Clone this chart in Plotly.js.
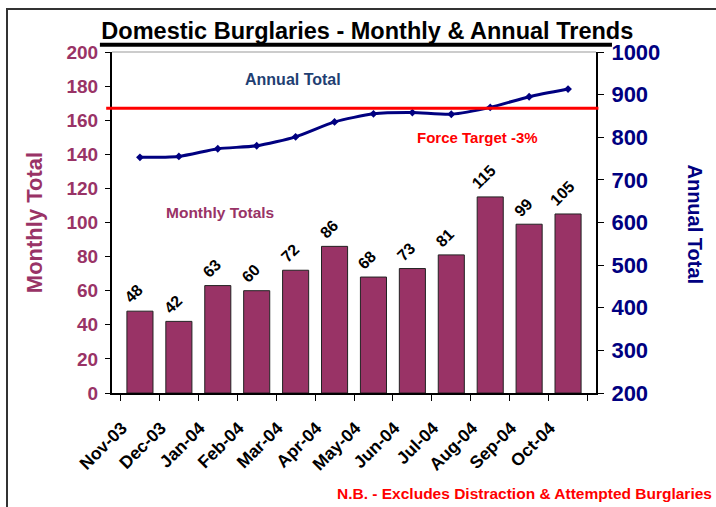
<!DOCTYPE html>
<html>
<head>
<meta charset="utf-8">
<script src="https://cdn.plot.ly/plotly-3.0.1.min.js"></script>
<style>
  body { margin: 0; background: #fff; }
  #wrap { position: relative; width: 716px; height: 507px; overflow: hidden; }
  #frame { position: absolute; left: 6px; top: 8px; width: 800px; height: 600px;
           border-left: 2px solid #333; border-top: 2px solid #333; pointer-events: none; }
  #chart { width: 716px; height: 507px; }
</style>
</head>
<body>
<div id="wrap">
  <div id="chart"></div>
  <div id="frame"></div>
</div>
<script>
// month labels
const months = ['Nov-03', 'Dec-03', 'Jan-04', 'Feb-04', 'Mar-04', 'Apr-04',
                'May-04', 'Jun-04', 'Jul-04', 'Aug-04', 'Sep-04', 'Oct-04'];

// monthly burglaries (bars, left axis)
const monthlyTotals = [48, 42, 63, 60, 72, 86, 68, 73, 81, 115, 99, 105];

// rolling annual total (line, right axis)
const annualTotals = [753, 755, 773, 780, 801, 836, 855, 858, 854, 870, 895, 913];

// force target line, on the monthly scale
const forceTarget = 167;

const maroon = '#993366';
const navy = '#000080';
const fontFam = 'Arial, "Liberation Sans", sans-serif';

const bars = {
    x: months,
    y: monthlyTotals,
    type: 'bar',
    marker: { color: maroon, line: { color: '#222', width: 1 } },
    hoverinfo: 'none'
};

const annual = {
    x: months,
    y: annualTotals,
    yaxis: 'y2',
    type: 'scatter',
    mode: 'lines+markers',
    line: { color: navy, width: 3, shape: 'spline', smoothing: 0.6 },
    marker: { color: navy, symbol: 'diamond', size: 6 },
    hoverinfo: 'none'
};

// rotated value labels above each bar
const barLabels = months.map((m, i) => ({
    x: m, y: monthlyTotals[i], xref: 'x', yref: 'y',
    text: String(monthlyTotals[i]),
    showarrow: false, textangle: -45,
    xanchor: 'center', yanchor: 'bottom', xshift: -6, yshift: 2,
    font: { family: fontFam, size: 16, color: '#000', weight: 700 }
}));

const layout = {
    width: 716,
    height: 507,
    margin: { l: 112, r: 120, t: 52, b: 114 },
    paper_bgcolor: 'rgba(0,0,0,0)',
    plot_bgcolor: 'rgba(0,0,0,0)',
    showlegend: false,
    bargap: 0.33,
    font: { family: fontFam },
    title: {
        text: 'Domestic Burglaries - Monthly & Annual Trends',
        font: { family: fontFam, size: 23.5, color: '#000', weight: 700 },
        x: 0.513, xanchor: 'center', y: 0.94, yanchor: 'middle'
    },
    xaxis: {
        type: 'category',
        tickangle: -45,
        tickfont: { family: fontFam, size: 17.5, color: '#000', weight: 700 },
        ticks: 'outside',
        tickson: 'boundaries',
        ticklen: 6,
        tickcolor: '#000',
        ticklabelstandoff: 16,
        ticklabelshift: -18,
        showline: true,
        linecolor: '#000',
        linewidth: 2,
        showgrid: false,
        zeroline: false
    },
    yaxis: {
        range: [0, 200],
        dtick: 20,
        title: { text: 'Monthly Total', font: { family: fontFam, size: 22, color: maroon, weight: 700 }, standoff: 18 },
        tickfont: { family: fontFam, size: 19, color: maroon, weight: 700 },
        ticks: 'outside',
        ticklen: 5,
        tickcolor: '#000',
        ticklabelstandoff: 3,
        showline: true,
        linecolor: '#000',
        linewidth: 2,
        showgrid: false,
        zeroline: false
    },
    yaxis2: {
        range: [200, 1000],
        dtick: 100,
        overlaying: 'y',
        side: 'right',
        tickfont: { family: fontFam, size: 22, color: navy, weight: 700 },
        ticks: 'outside',
        ticklen: 6,
        tickcolor: '#000',
        ticklabelstandoff: 3,
        showline: true,
        linecolor: '#000',
        linewidth: 2,
        showgrid: false,
        zeroline: false
    },
    shapes: [
        // force target
        { type: 'line', xref: 'paper', yref: 'y', x0: -0.012, x1: 1.005, y0: forceTarget, y1: forceTarget,
          line: { color: '#ff0000', width: 3 } },
        // top border of plot area
        { type: 'line', xref: 'paper', yref: 'paper', x0: 0, x1: 1, y0: 1, y1: 1,
          line: { color: '#999', width: 1 } },
        // title underline
        { type: 'line', xref: 'paper', yref: 'paper', x0: -0.025, x1: 1.033, y0: 1.021, y1: 1.021,
          line: { color: '#000', width: 4 } }
    ],
    annotations: barLabels.concat([
        { text: 'Annual Total', xref: 'paper', yref: 'paper', x: 0.374, y: 0.918,
          xanchor: 'center', yanchor: 'middle', showarrow: false,
          font: { family: fontFam, size: 16, color: '#1f3f73', weight: 700 } },
        { text: 'Force Target -3%', xref: 'paper', yref: 'paper', x: 0.756, y: 0.748,
          xanchor: 'center', yanchor: 'middle', showarrow: false,
          font: { family: fontFam, size: 15, color: '#ff0000', weight: 700 } },
        { text: 'Monthly Totals', xref: 'paper', yref: 'paper', x: 0.223, y: 0.528,
          xanchor: 'center', yanchor: 'middle', showarrow: false,
          font: { family: fontFam, size: 15.5, color: maroon, weight: 700 } },
        { text: 'Annual Total', xref: 'paper', yref: 'paper', x: 1.204, y: 0.495,
          xanchor: 'center', yanchor: 'middle', showarrow: false,
          textangle: 90, font: { family: fontFam, size: 20, color: navy, weight: 700 } },
        { text: 'N.B. - Excludes Distraction & Attempted Burglaries', xref: 'paper', yref: 'paper',
          x: 1.244, xanchor: 'right', y: -0.296, yanchor: 'middle', showarrow: false,
          font: { family: fontFam, size: 15.5, color: '#ff0000', weight: 700 } }
    ])
};

Plotly.newPlot('chart', [bars, annual], layout, { staticPlot: true, displayModeBar: false });
</script>
</body>
</html>
